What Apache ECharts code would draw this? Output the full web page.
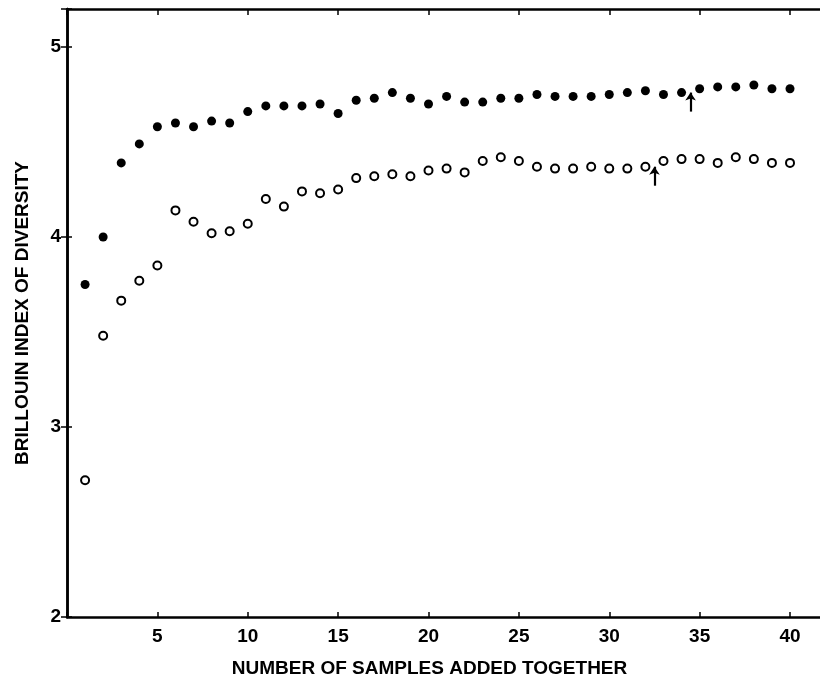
<!DOCTYPE html>
<html>
<head>
<meta charset="utf-8">
<script src="https://cdn.jsdelivr.net/npm/echarts@6/dist/echarts.min.js"></script>
<style>
  html, body { margin: 0; padding: 0; background: #fff; }
  #chart { width: 820px; height: 683px; }
</style>
</head>
<body>
<div id="chart"></div>
<script>
// Number of samples pooled (1..40)
const samples = [1,2,3,4,5,6,7,8,9,10,11,12,13,14,15,16,17,18,19,20,
                 21,22,23,24,25,26,27,28,29,30,31,32,33,34,35,36,37,38,39,40];

// Brillouin index, filled-circle series
const filledIndex = [3.75,4.00,4.39,4.49,4.58,4.60,4.58,4.61,4.60,4.66,
                     4.69,4.69,4.69,4.70,4.65,4.72,4.73,4.76,4.73,4.70,
                     4.74,4.71,4.71,4.73,4.73,4.75,4.74,4.74,4.74,4.75,
                     4.76,4.77,4.75,4.76,4.78,4.79,4.79,4.80,4.78,4.78];

// Brillouin index, open-circle series
const openIndex = [2.72,3.48,3.665,3.77,3.85,4.14,4.08,4.02,4.03,4.07,
                   4.20,4.16,4.24,4.23,4.25,4.31,4.32,4.33,4.32,4.35,
                   4.36,4.34,4.40,4.42,4.40,4.37,4.36,4.36,4.37,4.36,
                   4.36,4.37,4.40,4.41,4.41,4.39,4.42,4.41,4.39,4.39];

// Upward arrows marking where each curve levels off
const arrowX = [34.5, 32.5];
const arrowFrom = [4.66, 4.27];
const arrowTo = [4.76, 4.37];

const xTicks = [5,10,15,20,25,30,35,40];
const yTicks = [2,3,4,5];

const FONT = 'Liberation Sans';

const chart = echarts.init(document.getElementById('chart'), null, { renderer: 'canvas' });

const pair = (xs, ys) => xs.map((x, i) => [x, ys[i]]);

const frameAxis = {
  axisLine: { show: true, lineStyle: { color: '#000', width: 2.5 } },
  splitLine: { show: false }
};

const X_MAX = 41.77;

chart.setOption({
  animation: false,
  backgroundColor: '#fff',
  // plot box runs slightly past the right edge of the page
  grid: { left: 67, width: 755, top: 9, bottom: 66, containLabel: false, outerBoundsMode: 'none' },
  xAxis: [
    {
      type: 'value', min: 0, max: X_MAX, interval: 5, position: 'bottom',
      ...frameAxis,
      axisTick: { show: true, inside: true, length: 5, lineStyle: { color: '#000', width: 1.5 } },
      axisLabel: {
        color: '#000', fontFamily: FONT, fontWeight: 'bold', fontSize: 19, margin: 10,
        formatter: v => (xTicks.includes(v) ? String(v) : '')
      },
      name: 'NUMBER OF SAMPLES ADDED TOGETHER',
      nameLocation: 'middle', nameGap: 42,
      nameTextStyle: { color: '#000', fontFamily: FONT, fontWeight: 'bold', fontSize: 19, padding: [0, 30, 0, 0] }
    },
    {
      type: 'value', min: 0, max: X_MAX, interval: 5, position: 'top',
      ...frameAxis,
      axisTick: { show: true, inside: true, length: 6, lineStyle: { color: '#000', width: 1.5 } },
      axisLabel: { show: false }
    }
  ],
  yAxis: [
    {
      type: 'value', min: 2, max: 5.2, interval: 1, position: 'left',
      ...frameAxis,
      axisTick: { show: true, inside: true, length: 5, lineStyle: { color: '#000', width: 1.5 } },
      axisLabel: {
        color: '#000', fontFamily: FONT, fontWeight: 'bold', fontSize: 19, margin: 6,
        formatter: v => (yTicks.includes(v) ? String(v) : '')
      },
      name: 'BRILLOUIN INDEX OF DIVERSITY',
      nameLocation: 'middle', nameGap: 35, nameRotate: 90,
      nameTextStyle: { color: '#000', fontFamily: FONT, fontWeight: 'bold', fontSize: 19 }
    },
    {
      type: 'value', min: 2, max: 5.2, interval: 1, position: 'right',
      ...frameAxis,
      axisTick: { show: true, inside: true, length: 6, lineStyle: { color: '#000', width: 1.5 } },
      axisLabel: { show: false }
    }
  ],
  series: [
    {
      type: 'scatter', xAxisIndex: 0, yAxisIndex: 0,
      data: pair(samples, filledIndex),
      symbol: 'circle', symbolSize: 9,
      itemStyle: { color: '#000', opacity: 1 }
    },
    {
      type: 'scatter', xAxisIndex: 0, yAxisIndex: 0,
      data: pair(samples, openIndex),
      symbol: 'circle', symbolSize: 8,
      itemStyle: { color: '#fff', borderColor: '#000', borderWidth: 2, opacity: 1 }
    },
    {
      type: 'lines', coordinateSystem: 'cartesian2d', xAxisIndex: 0, yAxisIndex: 0,
      data: arrowX.map((x, i) => ({ coords: [[x, arrowFrom[i]], [x, arrowTo[i]]] })),
      symbol: ['none', 'arrow'], symbolSize: [0, 8],
      lineStyle: { color: '#000', width: 2.2, opacity: 1 }
    }
  ]
});
</script>
</body>
</html>
